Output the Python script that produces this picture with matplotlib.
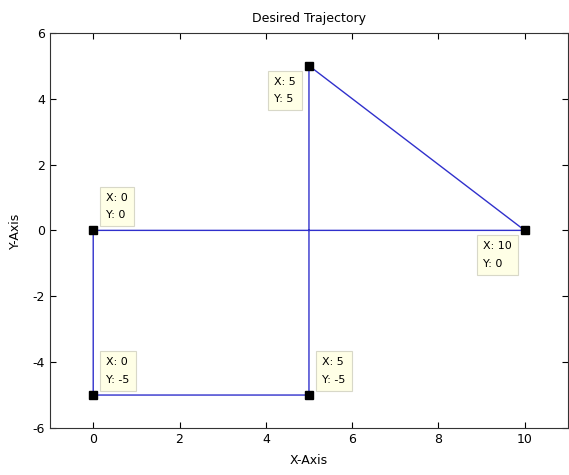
import matplotlib
matplotlib.use('Agg')
import matplotlib.pyplot as plt

# trajectory waypoints (in drawing order)
x_path = [0, 10, 5, 5, 0, 0]
y_path = [0, 0, 5, -5, -5, 0]

# points carrying a data tip, and where the tip sits
tip_x = [0, 5, 10, 0, 5]
tip_y = [0, 5, 0, -5, -5]
tip_side = ['ur', 'll', 'll', 'ur', 'ur']

x_ticks = [0, 2, 4, 6, 8, 10]
y_ticks = [-6, -4, -2, 0, 2, 4, 6]

plt.rcParams['font.family'] = ['DejaVu Sans']
plt.rcParams['axes.unicode_minus'] = False

fig = plt.figure(figsize=(5.69, 4.75), dpi=100)
ax = fig.add_axes([0.088, 0.099, 0.910, 0.832])

ax.plot(x_path, y_path, color='#3030cc', linewidth=1.0)
ax.plot(tip_x, tip_y, linestyle='none', marker='s', markersize=6,
        color='black')

for px, py, side in zip(tip_x, tip_y, tip_side):
    if side == 'ur':
        off, ha, va = (9.5, 7.5), 'left', 'bottom'
    else:
        off, ha, va = (-9.5, -8.0), 'right', 'top'
    ax.annotate(f'X: {px}\nY: {py}', xy=(px, py), xytext=off,
                textcoords='offset points', ha=ha, va=va, fontsize=8,
                multialignment='left', linespacing=1.9,
                bbox=dict(boxstyle='square,pad=0.55', facecolor='#ffffe6',
                          edgecolor='#d8d8c8', linewidth=0.8))

ax.set_xlim(-1, 11)
ax.set_ylim(-6, 6)
ax.set_xticks(x_ticks)
ax.set_yticks(y_ticks)
ax.tick_params(direction='in', top=True, right=True, length=4,
               labelsize=9, width=0.8)
for s in ax.spines.values():
    s.set_linewidth(0.8)
    s.set_color('#333333')

ax.set_title('Desired Trajectory', fontsize=9, pad=8)
ax.set_xlabel('X-Axis', fontsize=9, labelpad=6)
ax.set_ylabel('Y-Axis', fontsize=9, labelpad=8)

fig.savefig('out.png', dpi=100, facecolor='white')
